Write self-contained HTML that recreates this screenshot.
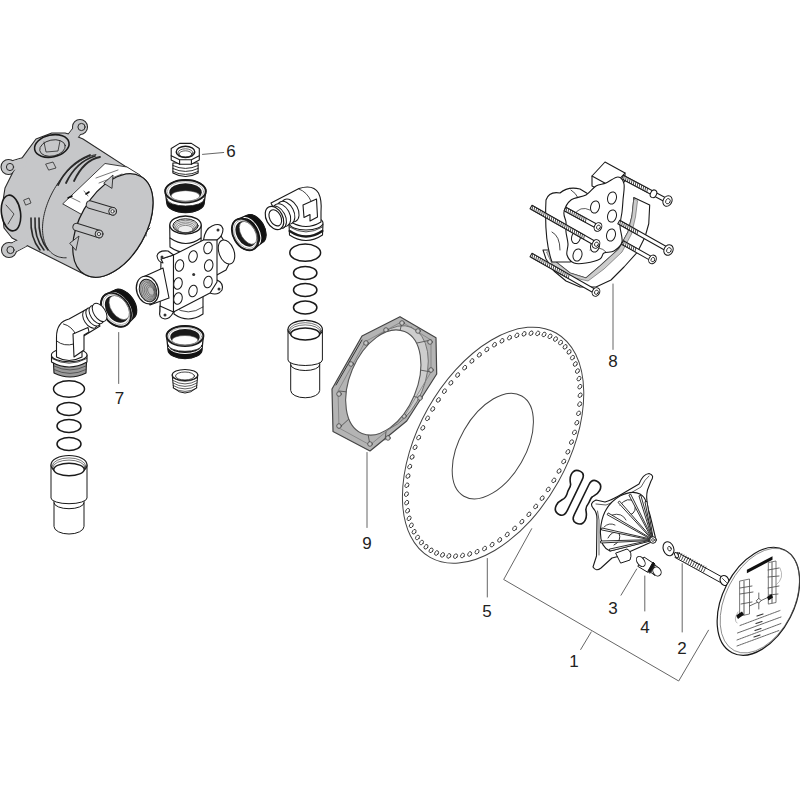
<!DOCTYPE html><html><head><meta charset="utf-8"><style>html,body{margin:0;padding:0;background:#fff;width:800px;height:800px;overflow:hidden}svg{display:block}text{font-family:"Liberation Sans",sans-serif;fill:#222;font-size:17px}</style></head><body>
<svg width="800" height="800" viewBox="0 0 800 800" stroke-linejoin="round" stroke-linecap="round">
<rect width="800" height="800" fill="#fff"/>
<g stroke="#2a2a2a" stroke-width="1.1">
<path d="M80,127 L70,140" stroke="#2a2a2a" stroke-width="11" />
<path d="M80,127 L70,140" stroke="#c6c7c9" stroke-width="9" />
<circle cx="80" cy="127" r="7.5" fill="#c6c7c9"/>
<path d="M8.5,167 L22,163" stroke="#2a2a2a" stroke-width="11" />
<path d="M8.5,167 L22,163" stroke="#c6c7c9" stroke-width="9" />
<circle cx="8.5" cy="167" r="7.5" fill="#c6c7c9"/>
<path d="M9,250 L24,242" stroke="#2a2a2a" stroke-width="11" />
<path d="M9,250 L24,242" stroke="#c6c7c9" stroke-width="9" />
<circle cx="9" cy="250" r="7.5" fill="#c6c7c9"/>
<path d="M2,207 L5,188 L13,172 L22.5,157.3 L36,139 L51.8,133 L65,133 L76,136 L83,139 L141.64,176.87 L142.36,177.35 L143.06,177.86 L143.75,178.41 L144.41,178.98 L145.05,179.59 L145.66,180.23 L146.26,180.9 L146.83,181.61 L147.38,182.34 L147.91,183.1 L148.41,183.89 L148.89,184.71 L149.34,185.56 L149.77,186.43 L150.17,187.34 L150.54,188.26 L150.9,189.22 L151.22,190.19 L151.52,191.2 L151.79,192.22 L152.04,193.27 L152.26,194.34 L152.45,195.43 L152.61,196.55 L152.75,197.68 L152.86,198.83 L152.94,200 L153,201.19 L153.02,202.39 L153.03,203.61 L153,204.85 L152.94,206.1 L152.86,207.36 L152.75,208.63 L152.61,209.92 L152.45,211.22 L152.26,212.52 L152.04,213.84 L151.8,215.16 L151.52,216.49 L151.23,217.83 L150.9,219.17 L150.55,220.52 L150.18,221.87 L149.77,223.22 L149.35,224.58 L148.89,225.93 L148.42,227.29 L147.92,228.64 L147.39,229.99 L146.84,231.34 L146.27,232.68 L145.68,234.02 L145.06,235.35 L144.42,236.68 L143.76,238 L143.08,239.31 L142.37,240.61 L141.65,241.9 L140.91,243.18 L140.15,244.45 L139.37,245.7 L138.57,246.94 L137.75,248.17 L136.92,249.38 L136.07,250.57 L135.2,251.75 L134.32,252.9 L133.43,254.04 L132.52,255.16 L131.59,256.26 L130.66,257.34 L129.71,258.4 L128.75,259.43 L127.78,260.44 L126.8,261.43 L125.81,262.39 L124.81,263.33 L123.8,264.24 L122.79,265.13 L121.77,265.98 L120.74,266.81 L119.71,267.61 L118.67,268.39 L117.63,269.13 L116.58,269.84 L115.54,270.53 L114.49,271.18 L113.44,271.8 L112.39,272.39 L111.34,272.95 L110.29,273.47 L109.24,273.96 L108.19,274.42 L107.15,274.84 L106.12,275.24 L105.08,275.59 L104.05,275.91 L103.03,276.2 L102.02,276.46 L101.01,276.67 L100.01,276.86 L99.02,277.01 L98.04,277.12 L97.07,277.2 L96.11,277.24 L95.16,277.24 L94.23,277.21 L93.3,277.15 L92.39,277.05 L91.5,276.91 L90.61,276.74 L89.75,276.54 L88.9,276.3 L88.07,276.02 L87.25,275.71 L86.45,275.37 L85.67,274.99 L12,238 L4,228Z" fill="#c6c7c9"/>
<path d="M80,127 L70,140" stroke="#c6c7c9" stroke-width="9" />
<circle cx="80" cy="127" r="6.5" fill="#c6c7c9" stroke="none"/>
<circle cx="81.5" cy="127" r="3.6" fill="#c6c7c9" stroke-width="1"/>
<path d="M8.5,167 L22,163" stroke="#c6c7c9" stroke-width="9" />
<circle cx="8.5" cy="167" r="6.5" fill="#c6c7c9" stroke="none"/>
<circle cx="10" cy="167" r="3.6" fill="#c6c7c9" stroke-width="1"/>
<path d="M9,250 L24,242" stroke="#c6c7c9" stroke-width="9" />
<circle cx="9" cy="250" r="6.5" fill="#c6c7c9" stroke="none"/>
<circle cx="10.5" cy="250" r="3.6" fill="#c6c7c9" stroke-width="1"/>
<path d="M66.19,257.79 L64.8,257.8 L63.45,257.74 L62.11,257.61 L60.81,257.39 L59.54,257.11 L58.31,256.75 L57.11,256.31 L55.95,255.81 L54.82,255.23 L53.74,254.57 L52.7,253.85 L51.7,253.06 L50.75,252.2 L49.85,251.27 L48.99,250.28 L48.18,249.22 L47.42,248.1 L46.71,246.92 L46.06,245.68 L45.46,244.38 L44.91,243.02 L44.42,241.61 L43.98,240.15 L43.6,238.64 L43.28,237.08 L43.01,235.48 L42.81,233.83 L42.66,232.15 L42.56,230.42 L42.53,228.66 L42.56,226.87 L42.64,225.04 L42.78,223.19 L42.98,221.32 L43.24,219.42 L43.56,217.5 L43.93,215.57 L44.36,213.62 L44.84,211.66 L45.38,209.69 L45.98,207.72 L46.63,205.74 L47.33,203.77 L48.08,201.8 L48.88,199.83 L49.73,197.87 L50.63,195.93 L51.58,194 L52.57,192.09 L53.6,190.2 L54.68,188.33 L55.8,186.49 L56.96,184.67 L58.15,182.89 L59.38,181.14 L60.65,179.43 L61.95,177.75 L63.27,176.12 L64.63,174.53 L66.01,172.99 L67.41,171.49 L68.84,170.05 L70.29,168.66 L71.76,167.32 L73.24,166.04 L74.73,164.81 L76.24,163.65 L77.76,162.55 L79.28,161.51 L80.81,160.54 L82.34,159.64 L83.87,158.8 L85.4,158.03 L86.93,157.33 L88.45,156.7 L89.96,156.14 L91.46,155.66 L92.95,155.25 L94.42,154.91 L95.88,154.65" fill="none" stroke-width="1"/>
<ellipse cx="51.8" cy="146" rx="17.5" ry="11" fill="#c6c7c9" stroke="#1a1a1a" stroke-width="1.6" transform="rotate(-12 51.8 146)" />
<ellipse cx="52.5" cy="148" rx="13" ry="8" fill="none" stroke="#1a1a1a" stroke-width="0.8" transform="rotate(-12 52.5 148)" />
<path d="M44,142 L46,152 L58,151 L60,141" fill="none" stroke-width="0.8"/>
<ellipse cx="11" cy="213" rx="9.5" ry="18" fill="#c6c7c9" stroke="#1a1a1a" stroke-width="1.6" transform="rotate(-8 11 213)" />
<path d="M6,205 L14,214 L8,224" fill="none" stroke-width="0.8"/>
<path d="M58,185 Q68,164 90,155" fill="none" stroke-width="1.8"/>
<path d="M66,183 Q76,162 95,156" fill="none" stroke-width="1.8"/>
<path d="M74,181 Q84,160 100,157" fill="none" stroke-width="1.8"/>
<path d="M31,218 Q30,238 40,250" fill="none" stroke-width="1.6"/>
<path d="M35,218 Q34,238 44,250" fill="none" stroke-width="1.6"/>
<path d="M39,218 Q38,238 48,250" fill="none" stroke-width="1.6"/>
<path d="M46,164 L53,162 L56,168 L49,170 Z M24,200 L29,198 L31,203 L26,205 Z" fill="#c6c7c9" stroke-width="0.8"/>
<path d="M63,203.6 L105,163.5 L127,167 L140,175 L150,205 L85,218 L81.6,214.6 Z" fill="#fff" stroke-width="0.9"/>
<path d="M70,197 L80,202 M84,191 L88,196 M96,178 L118,170 M99,183 L122,174 M102,188 L125,178 M106,191 L120,186" fill="none" stroke="#555" stroke-width="0.8"/>
<path d="M68,198 L72,196 M86,194 L89,192" fill="none" stroke="#111" stroke-width="1.6"/>
<ellipse cx="112.9" cy="225.5" rx="56.5" ry="33.1" fill="#c6c7c9" stroke="#1a1a1a" stroke-width="1.2" transform="rotate(-60.3 112.9 225.5)" />
<path d="M104,183 L113,175 L112,188 Z M70,243 L79,236 L76,250 Z" fill="#c6c7c9" stroke-width="0.9"/>
<path d="M90,204.6 L112.6,211.3" stroke="#2a2a2a" stroke-width="8.5"/>
<path d="M90,204.6 L112.6,211.3" stroke="#c6c7c9" stroke-width="6.5"/>
<circle cx="112.6" cy="211.3" r="3.9" fill="#c6c7c9" stroke-width="1"/>
<circle cx="112.6" cy="211.3" r="1.6" fill="#fff" stroke-width="0.8"/>
<path d="M76.6,227 L99,234" stroke="#2a2a2a" stroke-width="8.5"/>
<path d="M76.6,227 L99,234" stroke="#c6c7c9" stroke-width="6.5"/>
<circle cx="99" cy="234" r="3.9" fill="#c6c7c9" stroke-width="1"/>
<circle cx="99" cy="234" r="1.6" fill="#fff" stroke-width="0.8"/>
<path d="M150,228 L146,232 L146,236" fill="none" stroke-width="0.9"/>
</g>
<g stroke="#1a1a1a" stroke-width="1.1" fill="#fff">
<path d="M172.9,163 L172.9,173 Q185.5,180 198.1,173 L198.1,163 Z"/>
<path d="M172.9,165.5 Q185.5,171.5 198.1,165.5" fill="none" stroke-width="0.9"/>
<path d="M172.9,168.5 Q185.5,174.5 198.1,168.5" fill="none" stroke-width="0.9"/>
<path d="M172.9,171.5 Q185.5,177.5 198.1,171.5" fill="none" stroke-width="0.9"/>
<path d="M171.2,148.5 L179.6,143.4 L191.4,143.4 L199.3,148.5 L199.3,160 L191.4,164.2 L179.6,164.2 L171.2,160 Z"/>
<path d="M171.2,155.8 L179.6,159.7 L191.4,159.7 L199.3,155.8 M179.6,159.7 L179.6,164.2 M191.4,159.7 L191.4,164.2" fill="none"/>
<ellipse cx="185.5" cy="151.9" rx="9.3" ry="5.6" fill="#fff" stroke="#1a1a1a" stroke-width="1.4" />
<ellipse cx="185.5" cy="153" rx="7.6" ry="4.2" fill="none" stroke="#1a1a1a" stroke-width="0.7" />
<ellipse cx="185.5" cy="154" rx="6.4" ry="3.2" fill="none" stroke="#1a1a1a" stroke-width="0.7" />
</g>
<g transform="translate(185.5 191.2) rotate(0)">
<path d="M-20.3,0 A20.3,11.2 0 0 1 20.3,0 L18.68,11.8 A18.68,9.52 0 0 1 -18.68,11.8 Z" fill="#fff" stroke="#1a1a1a" stroke-width="1.3"/>
<path d="M-18.68,7.8 A18.68,7.06 0 0 0 18.68,7.8 L18.68,11.8 A18.68,9.52 0 0 1 -18.68,11.8 Z" fill="#111" stroke="#1a1a1a" stroke-width="0.8"/>
<ellipse cx="0" cy="0" rx="20.3" ry="11.2" fill="#fff" stroke="#1a1a1a" stroke-width="1.95"/>
<ellipse cx="0" cy="1" rx="16.24" ry="8.96" fill="#1a1a1a" stroke="none"/>
<ellipse cx="0" cy="4.7" rx="14.41" ry="5.26" fill="#fff" stroke="#444" stroke-width="0.6"/>
<ellipse cx="0" cy="0.5" rx="18.27" ry="10.08" fill="none" stroke="#888" stroke-width="0.6"/>
</g>
<g stroke="#1a1a1a" stroke-width="1.1" fill="#fff">
<path d="M214,240 L221,236 L233,256 L226,270 L215,276 Z"/>
<ellipse cx="226.5" cy="252" rx="7.5" ry="12.5" fill="#fff" stroke="#1a1a1a" stroke-width="1.1" transform="rotate(-20 226.5 252)" />
<path d="M174,296 L174,314 Q188,324 203,314 L203,296 Z"/>
<path d="M174,307 Q188,317 203,307" fill="none" stroke-width="0.8"/>
<path d="M169.7,225 L170,247 Q186,258 201,247 L201.2,225 Z"/>
<path d="M170,238 Q186,249 201,238" fill="none"/>
<ellipse cx="185.5" cy="225" rx="15.7" ry="9" fill="#fff" stroke="#1a1a1a" stroke-width="1.3" />
<ellipse cx="185.5" cy="225.8" rx="12.6" ry="7" fill="#eee" stroke="#1a1a1a" stroke-width="1" />
<ellipse cx="185.5" cy="226.5" rx="11.5" ry="6.2" fill="none" stroke="#444" stroke-width="0.6" />
<ellipse cx="185.5" cy="227.4" rx="10.2" ry="5.4" fill="none" stroke="#444" stroke-width="0.6" />
<ellipse cx="185.5" cy="228.3" rx="8.9" ry="4.6" fill="none" stroke="#444" stroke-width="0.6" />
<ellipse cx="185.5" cy="229.2" rx="7.6" ry="3.8" fill="none" stroke="#444" stroke-width="0.6" />
<path d="M173.5,255 L161,259 L160,314 L173.5,312 Z"/>
<path d="M173.5,255 L168,251 Q158,250 157,256 Q158,262 163,263 L161,259 Z"/>
<path d="M203.5,240 Q205,229 212,226 Q221,222 223,229 Q223,236 217,240 Z"/>
<path d="M217,280 Q224,283 222,290 Q218,296 210,293 Z"/>
<path d="M173.5,312 Q170,319 165,319 Q158,318 160,311 L160,306 Z"/>
<path d="M173.5,255 L203.5,240 L217,240 L217,282 L210,293 L173.5,312 Z"/>
<circle cx="162" cy="257" r="1.5" fill="#333" stroke="none"/>
<circle cx="218" cy="230" r="1.5" fill="#333" stroke="none"/>
<circle cx="219" cy="289" r="1.5" fill="#333" stroke="none"/>
<circle cx="165" cy="315" r="1.5" fill="#333" stroke="none"/>
<ellipse cx="179.5" cy="265.5" rx="4.2" ry="5.9" fill="#fff" stroke="#1a1a1a" stroke-width="1" transform="rotate(12 179.5 265.5)" />
<ellipse cx="193" cy="256.5" rx="4.2" ry="5.9" fill="#fff" stroke="#1a1a1a" stroke-width="1" transform="rotate(12 193 256.5)" />
<ellipse cx="208" cy="248" rx="4.2" ry="5.9" fill="#fff" stroke="#1a1a1a" stroke-width="1" transform="rotate(12 208 248)" />
<ellipse cx="208.7" cy="265.5" rx="4.2" ry="5.9" fill="#fff" stroke="#1a1a1a" stroke-width="1" transform="rotate(12 208.7 265.5)" />
<ellipse cx="208" cy="282" rx="4.2" ry="5.9" fill="#fff" stroke="#1a1a1a" stroke-width="1" transform="rotate(12 208 282)" />
<ellipse cx="193" cy="291" rx="4.2" ry="5.9" fill="#fff" stroke="#1a1a1a" stroke-width="1" transform="rotate(12 193 291)" />
<ellipse cx="178" cy="283.5" rx="4.2" ry="5.9" fill="#fff" stroke="#1a1a1a" stroke-width="1" transform="rotate(12 178 283.5)" />
<ellipse cx="178" cy="298.5" rx="4.2" ry="5.9" fill="#fff" stroke="#1a1a1a" stroke-width="1" transform="rotate(12 178 298.5)" />
<circle cx="193.7" cy="274.5" r="1.5" fill="#333" stroke="none"/>
<path d="M143,277 L163,268 L169,298 L150,305 Z"/>
<ellipse cx="147.5" cy="290" rx="10.8" ry="14.2" fill="#fff" stroke="#1a1a1a" stroke-width="1.3" transform="rotate(-18 147.5 290)" />
<ellipse cx="148" cy="290.5" rx="8.4" ry="11.6" fill="#bbb" stroke="#1a1a1a" stroke-width="1" transform="rotate(-18 148 290.5)" />
<ellipse cx="148.5" cy="291" rx="7.4" ry="10.5" fill="none" stroke="#555" stroke-width="0.6" transform="rotate(-18 148.5 291)" />
<ellipse cx="149.1" cy="291" rx="6.3" ry="9" fill="none" stroke="#555" stroke-width="0.6" transform="rotate(-18 149.1 291)" />
<ellipse cx="149.7" cy="291" rx="5.2" ry="7.5" fill="none" stroke="#555" stroke-width="0.6" transform="rotate(-18 149.7 291)" />
<ellipse cx="150.3" cy="291" rx="4.1" ry="6" fill="none" stroke="#555" stroke-width="0.6" transform="rotate(-18 150.3 291)" />
<ellipse cx="150.9" cy="291" rx="3" ry="4.5" fill="none" stroke="#555" stroke-width="0.6" transform="rotate(-18 150.9 291)" />
</g>
<g transform="translate(185 336) rotate(0)">
<path d="M-18.4,0 A18.4,10 0 0 1 18.4,0 L16.93,14 A16.93,8.5 0 0 1 -16.93,14 Z" fill="#fff" stroke="#1a1a1a" stroke-width="1.3"/>
<path d="M-16.93,9 A16.93,6.3 0 0 0 16.93,9 L16.93,14 A16.93,8.5 0 0 1 -16.93,14 Z" fill="#111" stroke="#1a1a1a" stroke-width="0.8"/>
<path d="M-16.59,11.5 A16.93,7.5 0 0 0 16.59,11.5" fill="none" stroke="#fff" stroke-width="1"/>
<ellipse cx="0" cy="0" rx="18.4" ry="10" fill="#fff" stroke="#1a1a1a" stroke-width="1.95"/>
<ellipse cx="0" cy="1" rx="14.72" ry="8" fill="#1a1a1a" stroke="none"/>
<ellipse cx="0" cy="4.2" rx="13.06" ry="4.7" fill="#fff" stroke="#444" stroke-width="0.6"/>
<ellipse cx="0" cy="0.5" rx="16.56" ry="9" fill="none" stroke="#888" stroke-width="0.6"/>
</g>
<g stroke="#1a1a1a" stroke-width="1" fill="#fff">
<path d="M172.2,375 L173.5,388 Q185,398 196.5,388 L197.8,375 Z"/>
<path d="M173,378 Q185,385 197,378" fill="none" stroke-width="0.7"/>
<path d="M173,380.5 Q185,387.5 197,380.5" fill="none" stroke-width="0.7"/>
<path d="M173,383 Q185,390 197,383" fill="none" stroke-width="0.7"/>
<path d="M173,385.5 Q185,392.5 197,385.5" fill="none" stroke-width="0.7"/>
<path d="M173,388 Q185,395 197,388" fill="none" stroke-width="0.7"/>
<ellipse cx="185" cy="375" rx="12.8" ry="5.5" fill="#fff" stroke="#1a1a1a" stroke-width="1.1" />
<ellipse cx="185" cy="376" rx="9.5" ry="4" fill="none" stroke="#1a1a1a" stroke-width="0.8" />
</g>
<g transform="translate(245 234.5) rotate(-120)">
<path d="M-17,0 A17,11.5 0 0 1 17,0 L15.64,11 A15.64,9.78 0 0 1 -15.64,11 Z" fill="#fff" stroke="#1a1a1a" stroke-width="1.3"/>
<path d="M-15.64,4 A15.64,7.25 0 0 0 15.64,4 L15.64,11 A15.64,9.78 0 0 1 -15.64,11 Z" fill="#111" stroke="#1a1a1a" stroke-width="0.8"/>
<path d="M-15.33,7.5 A15.64,8.62 0 0 0 15.33,7.5" fill="none" stroke="#fff" stroke-width="1"/>
<ellipse cx="0" cy="0" rx="17" ry="11.5" fill="#fff" stroke="#1a1a1a" stroke-width="1.95"/>
<ellipse cx="0" cy="1" rx="13.6" ry="9.2" fill="#1a1a1a" stroke="none"/>
<ellipse cx="0" cy="3.45" rx="12.58" ry="7.13" fill="#fff" stroke="#444" stroke-width="0.6"/>
<ellipse cx="0" cy="0.5" rx="15.3" ry="10.35" fill="none" stroke="#888" stroke-width="0.6"/>
</g>
<g stroke="#1a1a1a" stroke-width="1.1" fill="#fff">
<path d="M289,224 L289.5,235 Q306,246 322.5,235 L323,224 Z"/>
<path d="M289.7,231 Q306,242 322.3,231" fill="none" stroke-width="2.4"/>
<path d="M289.5,227 Q306,237 322.5,227" fill="none" stroke-width="0.8"/>
<ellipse cx="306" cy="223" rx="17" ry="7" fill="#fff" stroke="#1a1a1a" stroke-width="1.1" />
<path d="M271,203 L299,188.5 Q313,184 318.5,193 Q322,200 321,212 L321,222 Q306,231 291,222 L283,228 Z"/>
<path d="M299,189 Q307,192 311,201" fill="none" stroke-width="0.8"/>
<path d="M303,205 L316.5,199 L317.5,217 L310,221 L310,214.5 L304,217.5 Z" fill="#fff"/>
<ellipse cx="290" cy="210.5" rx="8" ry="12.2" fill="#fff" stroke="#1a1a1a" stroke-width="1" transform="rotate(-28 290 210.5)" />
<ellipse cx="285.8" cy="212.8" rx="8" ry="12.2" fill="#fff" stroke="#1a1a1a" stroke-width="1" transform="rotate(-28 285.8 212.8)" />
<ellipse cx="281.6" cy="215.1" rx="8" ry="12.2" fill="#fff" stroke="#1a1a1a" stroke-width="1" transform="rotate(-28 281.6 215.1)" />
<ellipse cx="277.4" cy="217.4" rx="8" ry="12.2" fill="#fff" stroke="#1a1a1a" stroke-width="1" transform="rotate(-28 277.4 217.4)" />
<ellipse cx="274.5" cy="218" rx="8.2" ry="12.4" fill="#fff" stroke="#1a1a1a" stroke-width="1.2" transform="rotate(-28 274.5 218)" />
<ellipse cx="275.3" cy="217.8" rx="5.6" ry="8.6" fill="#fff" stroke="#1a1a1a" stroke-width="1.1" transform="rotate(-28 275.3 217.8)" />
</g>
<ellipse cx="305.2" cy="252.7" rx="15.4" ry="8.6" fill="none" stroke="#1a1a1a" stroke-width="1.5" />
<ellipse cx="305.2" cy="273" rx="11.7" ry="6.5" fill="none" stroke="#1a1a1a" stroke-width="1.5" />
<ellipse cx="305.2" cy="290" rx="11.7" ry="6.5" fill="none" stroke="#1a1a1a" stroke-width="1.5" />
<ellipse cx="305.2" cy="307.6" rx="11.7" ry="6.5" fill="none" stroke="#1a1a1a" stroke-width="1.5" />
<g stroke="#1a1a1a" stroke-width="1" fill="#fff">
<path d="M290.7,362 L290.7,390.4 A14.5,7.36 0 0 0 319.7,390.4 L319.7,362 Z"/>
<path d="M288,329.5 L288,360 A17.2,5.52 0 0 0 322.4,360 L322.4,329.5 Z"/>
<path d="M290.7,365 A14.5,5.52 0 0 0 319.7,365" fill="none"/>
<ellipse cx="305.2" cy="329.5" rx="17.2" ry="9.2" fill="#fff" stroke="#1a1a1a" stroke-width="1.2" />
<ellipse cx="305.2" cy="330.7" rx="16" ry="8" fill="none" stroke="#1a1a1a" stroke-width="0.6" />
<ellipse cx="305.2" cy="331.9" rx="15.2" ry="7" fill="none" stroke="#1a1a1a" stroke-width="0.6" />
<ellipse cx="305.2" cy="334" rx="14.4" ry="6" fill="#fff" stroke="#1a1a1a" stroke-width="1.4" />
</g>
<g transform="translate(116 309.8) rotate(-125)">
<path d="M-18.5,0 A18.5,13 0 0 1 18.5,0 L17.02,9 A17.02,11.05 0 0 1 -17.02,9 Z" fill="#fff" stroke="#1a1a1a" stroke-width="1.3"/>
<path d="M-17.02,3 A17.02,8.19 0 0 0 17.02,3 L17.02,9 A17.02,11.05 0 0 1 -17.02,9 Z" fill="#111" stroke="#1a1a1a" stroke-width="0.8"/>
<path d="M-16.68,6 A17.02,9.75 0 0 0 16.68,6" fill="none" stroke="#fff" stroke-width="1"/>
<ellipse cx="0" cy="0" rx="18.5" ry="13" fill="#fff" stroke="#1a1a1a" stroke-width="1.95"/>
<ellipse cx="0" cy="1" rx="14.8" ry="10.4" fill="#1a1a1a" stroke="none"/>
<ellipse cx="0" cy="3.9" rx="13.69" ry="8.06" fill="#fff" stroke="#444" stroke-width="0.6"/>
<ellipse cx="0" cy="0.5" rx="16.65" ry="11.7" fill="none" stroke="#888" stroke-width="0.6"/>
</g>
<g stroke="#1a1a1a" stroke-width="1.1" fill="#fff">
<path d="M53.4,362 L54,373 Q70,381 86,373 L86.5,362 Z" fill="#9a9a9a"/>
<path d="M54,366 Q70,374 86,366 M54,369.5 Q70,377.5 86,369.5" fill="none" stroke="#444" stroke-width="0.8"/>
<path d="M51.5,355 L51.5,362 Q69,372 87,362 L87,355 Z"/>
<path d="M51.8,358.5 Q69,368 86.8,358.5" fill="none" stroke-width="0.8"/>
<ellipse cx="69.2" cy="355" rx="17.8" ry="6.8" fill="#fff" stroke="#1a1a1a" stroke-width="1.1" />
<path d="M56.5,357 L56.5,337 C56.5,326 61,321 69,319 L88,308.5 L100,326 L82,337 L82,357 Q69,364 56.5,357 Z"/>
<path d="M56.7,341 Q64,347 74,344 M63.5,324 Q72,326 76,335" fill="none" stroke-width="0.9"/>
<ellipse cx="90" cy="319" rx="5.8" ry="10.2" fill="#fff" stroke="#1a1a1a" stroke-width="1" transform="rotate(-33 90 319)" />
<ellipse cx="93.2" cy="316.8" rx="5.8" ry="10.2" fill="#fff" stroke="#1a1a1a" stroke-width="1" transform="rotate(-33 93.2 316.8)" />
<ellipse cx="96.4" cy="314.6" rx="5.8" ry="10.2" fill="#fff" stroke="#1a1a1a" stroke-width="1" transform="rotate(-33 96.4 314.6)" />
<ellipse cx="99.6" cy="312.4" rx="5.8" ry="10.2" fill="#fff" stroke="#1a1a1a" stroke-width="1" transform="rotate(-33 99.6 312.4)" />
<path d="M73,334 L88,327.5 L89,332 L84,335 L84,350 L74,357 Z"/>
</g>
<ellipse cx="69" cy="389" rx="15.5" ry="8.2" fill="none" stroke="#1a1a1a" stroke-width="1.5" />
<ellipse cx="69" cy="409" rx="12" ry="6.5" fill="none" stroke="#1a1a1a" stroke-width="1.5" />
<ellipse cx="69" cy="426" rx="12" ry="6.5" fill="none" stroke="#1a1a1a" stroke-width="1.5" />
<ellipse cx="69" cy="444" rx="12" ry="6.5" fill="none" stroke="#1a1a1a" stroke-width="1.5" />
<g stroke="#1a1a1a" stroke-width="1" fill="#fff">
<path d="M54,500 L54,526.4 A15,7.6 0 0 0 84,526.4 L84,500 Z"/>
<path d="M51,465 L51,498 A18,5.7 0 0 0 87,498 L87,465 Z"/>
<path d="M54,503 A15,5.7 0 0 0 84,503" fill="none"/>
<ellipse cx="69" cy="465" rx="18" ry="9.5" fill="#fff" stroke="#1a1a1a" stroke-width="1.2" />
<ellipse cx="69" cy="466.2" rx="16.8" ry="8.3" fill="none" stroke="#1a1a1a" stroke-width="0.6" />
<ellipse cx="69" cy="467.4" rx="16" ry="7.3" fill="none" stroke="#1a1a1a" stroke-width="0.6" />
<ellipse cx="69" cy="469.5" rx="15.2" ry="6.3" fill="#fff" stroke="#1a1a1a" stroke-width="1.4" />
</g>
<g stroke="#444" stroke-width="1.2">
<path d="M400,316.7 L436,337.7 L436.7,374 L431,383 L406.7,421 L370,451 L333,431.5 L332,389 L362,336Z" fill="#b4b4b4"/>
<ellipse cx="390" cy="378.5" rx="55.5" ry="34.5" fill="#cdcdcd" stroke="#666" stroke-width="0.8" transform="rotate(-67.3 390 378.5)" />
<path d="M402,322 L431,340 L431,372 L404,417 L370,445 L339,428 L338,391 L365,342 Z" fill="none" stroke="#777" stroke-width="0.7"/>
<path d="M365,342 L372,350 M339,391 L348,392 M339,428 L350,418 M370,445 L368,434 M404,417 L398,415 M431,372 L420,370 M431,340 L417,343 M402,322 L400,331 M350,362 L358,366 M385,440 L386,432 M420,398 L412,396" fill="none" stroke="#555" stroke-width="0.9"/>
<path d="M336,385 L362,340" fill="none" stroke="#333" stroke-width="1"/>
<circle cx="402" cy="323" r="2.3" fill="#c8c8c8" stroke="#444" stroke-width="0.8"/>
<circle cx="430" cy="342" r="2.3" fill="#c8c8c8" stroke="#444" stroke-width="0.8"/>
<circle cx="431" cy="370" r="2.3" fill="#c8c8c8" stroke="#444" stroke-width="0.8"/>
<circle cx="404" cy="416" r="2.3" fill="#c8c8c8" stroke="#444" stroke-width="0.8"/>
<circle cx="370" cy="444" r="2.3" fill="#c8c8c8" stroke="#444" stroke-width="0.8"/>
<circle cx="339" cy="426" r="2.3" fill="#c8c8c8" stroke="#444" stroke-width="0.8"/>
<circle cx="339" cy="394" r="2.3" fill="#c8c8c8" stroke="#444" stroke-width="0.8"/>
<circle cx="366" cy="343" r="2.3" fill="#c8c8c8" stroke="#444" stroke-width="0.8"/>
<circle cx="386" cy="330" r="2.3" fill="#c8c8c8" stroke="#444" stroke-width="0.8"/>
<circle cx="418" cy="331" r="2.3" fill="#c8c8c8" stroke="#444" stroke-width="0.8"/>
<circle cx="388" cy="438" r="2.3" fill="#c8c8c8" stroke="#444" stroke-width="0.8"/>
<circle cx="420" cy="398" r="2.3" fill="#c8c8c8" stroke="#444" stroke-width="0.8"/>
<circle cx="351" cy="364" r="2.3" fill="#c8c8c8" stroke="#444" stroke-width="0.8"/>
<ellipse cx="383.3" cy="382.5" rx="55.2" ry="33.6" fill="#fff" stroke="#555" stroke-width="1.1" transform="rotate(-67.3 383.3 382.5)" />
</g>
<ellipse cx="493.1" cy="445.2" rx="128.7" ry="74.8" fill="#fff" stroke="#444" stroke-width="1" transform="rotate(-60.7 493.1 445.2)" />
<ellipse cx="492.8" cy="446.1" rx="57.9" ry="32.9" fill="none" stroke="#444" stroke-width="1" transform="rotate(-60 492.8 446.1)" />
<ellipse cx="560.57" cy="342.58" rx="1.75" ry="2.5" transform="rotate(32 560.57 342.58)" fill="none" stroke="#333" stroke-width="0.85"/>
<ellipse cx="565.1" cy="346.86" rx="1.75" ry="2.5" transform="rotate(32 565.1 346.86)" fill="none" stroke="#333" stroke-width="0.85"/>
<ellipse cx="569.08" cy="351.9" rx="1.75" ry="2.5" transform="rotate(32 569.08 351.9)" fill="none" stroke="#333" stroke-width="0.85"/>
<ellipse cx="572.49" cy="357.64" rx="1.75" ry="2.5" transform="rotate(32 572.49 357.64)" fill="none" stroke="#333" stroke-width="0.85"/>
<ellipse cx="575.29" cy="364.04" rx="1.75" ry="2.5" transform="rotate(32 575.29 364.04)" fill="none" stroke="#333" stroke-width="0.85"/>
<ellipse cx="577.47" cy="371.06" rx="1.75" ry="2.5" transform="rotate(32 577.47 371.06)" fill="none" stroke="#333" stroke-width="0.85"/>
<ellipse cx="579.01" cy="378.63" rx="1.75" ry="2.5" transform="rotate(32 579.01 378.63)" fill="none" stroke="#333" stroke-width="0.85"/>
<ellipse cx="579.9" cy="386.71" rx="1.75" ry="2.5" transform="rotate(32 579.9 386.71)" fill="none" stroke="#333" stroke-width="0.85"/>
<ellipse cx="580.13" cy="395.23" rx="1.75" ry="2.5" transform="rotate(32 580.13 395.23)" fill="none" stroke="#333" stroke-width="0.85"/>
<ellipse cx="579.7" cy="404.13" rx="1.75" ry="2.5" transform="rotate(32 579.7 404.13)" fill="none" stroke="#333" stroke-width="0.85"/>
<ellipse cx="578.61" cy="413.34" rx="1.75" ry="2.5" transform="rotate(32 578.61 413.34)" fill="none" stroke="#333" stroke-width="0.85"/>
<ellipse cx="576.87" cy="422.78" rx="1.75" ry="2.5" transform="rotate(32 576.87 422.78)" fill="none" stroke="#333" stroke-width="0.85"/>
<ellipse cx="574.49" cy="432.39" rx="1.75" ry="2.5" transform="rotate(32 574.49 432.39)" fill="none" stroke="#333" stroke-width="0.85"/>
<ellipse cx="571.5" cy="442.1" rx="1.75" ry="2.5" transform="rotate(32 571.5 442.1)" fill="none" stroke="#333" stroke-width="0.85"/>
<ellipse cx="567.91" cy="451.82" rx="1.75" ry="2.5" transform="rotate(32 567.91 451.82)" fill="none" stroke="#333" stroke-width="0.85"/>
<ellipse cx="563.76" cy="461.49" rx="1.75" ry="2.5" transform="rotate(32 563.76 461.49)" fill="none" stroke="#333" stroke-width="0.85"/>
<ellipse cx="559.07" cy="471.04" rx="1.75" ry="2.5" transform="rotate(32 559.07 471.04)" fill="none" stroke="#333" stroke-width="0.85"/>
<ellipse cx="553.87" cy="480.38" rx="1.75" ry="2.5" transform="rotate(32 553.87 480.38)" fill="none" stroke="#333" stroke-width="0.85"/>
<ellipse cx="548.22" cy="489.45" rx="1.75" ry="2.5" transform="rotate(32 548.22 489.45)" fill="none" stroke="#333" stroke-width="0.85"/>
<ellipse cx="542.15" cy="498.18" rx="1.75" ry="2.5" transform="rotate(32 542.15 498.18)" fill="none" stroke="#333" stroke-width="0.85"/>
<ellipse cx="535.7" cy="506.5" rx="1.75" ry="2.5" transform="rotate(32 535.7 506.5)" fill="none" stroke="#333" stroke-width="0.85"/>
<ellipse cx="528.94" cy="514.36" rx="1.75" ry="2.5" transform="rotate(32 528.94 514.36)" fill="none" stroke="#333" stroke-width="0.85"/>
<ellipse cx="521.9" cy="521.68" rx="1.75" ry="2.5" transform="rotate(32 521.9 521.68)" fill="none" stroke="#333" stroke-width="0.85"/>
<ellipse cx="514.65" cy="528.42" rx="1.75" ry="2.5" transform="rotate(32 514.65 528.42)" fill="none" stroke="#333" stroke-width="0.85"/>
<ellipse cx="507.23" cy="534.52" rx="1.75" ry="2.5" transform="rotate(32 507.23 534.52)" fill="none" stroke="#333" stroke-width="0.85"/>
<ellipse cx="499.7" cy="539.93" rx="1.75" ry="2.5" transform="rotate(32 499.7 539.93)" fill="none" stroke="#333" stroke-width="0.85"/>
<ellipse cx="492.13" cy="544.63" rx="1.75" ry="2.5" transform="rotate(32 492.13 544.63)" fill="none" stroke="#333" stroke-width="0.85"/>
<ellipse cx="484.57" cy="548.56" rx="1.75" ry="2.5" transform="rotate(32 484.57 548.56)" fill="none" stroke="#333" stroke-width="0.85"/>
<ellipse cx="477.07" cy="551.7" rx="1.75" ry="2.5" transform="rotate(32 477.07 551.7)" fill="none" stroke="#333" stroke-width="0.85"/>
<ellipse cx="469.7" cy="554.02" rx="1.75" ry="2.5" transform="rotate(32 469.7 554.02)" fill="none" stroke="#333" stroke-width="0.85"/>
<ellipse cx="462.5" cy="555.52" rx="1.75" ry="2.5" transform="rotate(32 462.5 555.52)" fill="none" stroke="#333" stroke-width="0.85"/>
<ellipse cx="455.55" cy="556.17" rx="1.75" ry="2.5" transform="rotate(32 455.55 556.17)" fill="none" stroke="#333" stroke-width="0.85"/>
<ellipse cx="448.87" cy="555.97" rx="1.75" ry="2.5" transform="rotate(32 448.87 555.97)" fill="none" stroke="#333" stroke-width="0.85"/>
<ellipse cx="442.54" cy="554.93" rx="1.75" ry="2.5" transform="rotate(32 442.54 554.93)" fill="none" stroke="#333" stroke-width="0.85"/>
<ellipse cx="436.59" cy="553.04" rx="1.75" ry="2.5" transform="rotate(32 436.59 553.04)" fill="none" stroke="#333" stroke-width="0.85"/>
<ellipse cx="431.08" cy="550.34" rx="1.75" ry="2.5" transform="rotate(32 431.08 550.34)" fill="none" stroke="#333" stroke-width="0.85"/>
<ellipse cx="426.03" cy="546.82" rx="1.75" ry="2.5" transform="rotate(32 426.03 546.82)" fill="none" stroke="#333" stroke-width="0.85"/>
<ellipse cx="421.5" cy="542.54" rx="1.75" ry="2.5" transform="rotate(32 421.5 542.54)" fill="none" stroke="#333" stroke-width="0.85"/>
<ellipse cx="417.52" cy="537.5" rx="1.75" ry="2.5" transform="rotate(32 417.52 537.5)" fill="none" stroke="#333" stroke-width="0.85"/>
<ellipse cx="414.11" cy="531.76" rx="1.75" ry="2.5" transform="rotate(32 414.11 531.76)" fill="none" stroke="#333" stroke-width="0.85"/>
<ellipse cx="411.31" cy="525.36" rx="1.75" ry="2.5" transform="rotate(32 411.31 525.36)" fill="none" stroke="#333" stroke-width="0.85"/>
<ellipse cx="409.13" cy="518.34" rx="1.75" ry="2.5" transform="rotate(32 409.13 518.34)" fill="none" stroke="#333" stroke-width="0.85"/>
<ellipse cx="407.59" cy="510.77" rx="1.75" ry="2.5" transform="rotate(32 407.59 510.77)" fill="none" stroke="#333" stroke-width="0.85"/>
<ellipse cx="406.7" cy="502.69" rx="1.75" ry="2.5" transform="rotate(32 406.7 502.69)" fill="none" stroke="#333" stroke-width="0.85"/>
<ellipse cx="406.47" cy="494.17" rx="1.75" ry="2.5" transform="rotate(32 406.47 494.17)" fill="none" stroke="#333" stroke-width="0.85"/>
<ellipse cx="406.9" cy="485.27" rx="1.75" ry="2.5" transform="rotate(32 406.9 485.27)" fill="none" stroke="#333" stroke-width="0.85"/>
<ellipse cx="407.99" cy="476.06" rx="1.75" ry="2.5" transform="rotate(32 407.99 476.06)" fill="none" stroke="#333" stroke-width="0.85"/>
<ellipse cx="409.73" cy="466.62" rx="1.75" ry="2.5" transform="rotate(32 409.73 466.62)" fill="none" stroke="#333" stroke-width="0.85"/>
<ellipse cx="412.11" cy="457.01" rx="1.75" ry="2.5" transform="rotate(32 412.11 457.01)" fill="none" stroke="#333" stroke-width="0.85"/>
<ellipse cx="415.1" cy="447.3" rx="1.75" ry="2.5" transform="rotate(32 415.1 447.3)" fill="none" stroke="#333" stroke-width="0.85"/>
<ellipse cx="418.69" cy="437.58" rx="1.75" ry="2.5" transform="rotate(32 418.69 437.58)" fill="none" stroke="#333" stroke-width="0.85"/>
<ellipse cx="422.84" cy="427.91" rx="1.75" ry="2.5" transform="rotate(32 422.84 427.91)" fill="none" stroke="#333" stroke-width="0.85"/>
<ellipse cx="427.53" cy="418.36" rx="1.75" ry="2.5" transform="rotate(32 427.53 418.36)" fill="none" stroke="#333" stroke-width="0.85"/>
<ellipse cx="432.73" cy="409.02" rx="1.75" ry="2.5" transform="rotate(32 432.73 409.02)" fill="none" stroke="#333" stroke-width="0.85"/>
<ellipse cx="438.38" cy="399.95" rx="1.75" ry="2.5" transform="rotate(32 438.38 399.95)" fill="none" stroke="#333" stroke-width="0.85"/>
<ellipse cx="444.45" cy="391.22" rx="1.75" ry="2.5" transform="rotate(32 444.45 391.22)" fill="none" stroke="#333" stroke-width="0.85"/>
<ellipse cx="450.9" cy="382.9" rx="1.75" ry="2.5" transform="rotate(32 450.9 382.9)" fill="none" stroke="#333" stroke-width="0.85"/>
<ellipse cx="457.66" cy="375.04" rx="1.75" ry="2.5" transform="rotate(32 457.66 375.04)" fill="none" stroke="#333" stroke-width="0.85"/>
<ellipse cx="464.7" cy="367.72" rx="1.75" ry="2.5" transform="rotate(32 464.7 367.72)" fill="none" stroke="#333" stroke-width="0.85"/>
<ellipse cx="471.95" cy="360.98" rx="1.75" ry="2.5" transform="rotate(32 471.95 360.98)" fill="none" stroke="#333" stroke-width="0.85"/>
<ellipse cx="479.37" cy="354.88" rx="1.75" ry="2.5" transform="rotate(32 479.37 354.88)" fill="none" stroke="#333" stroke-width="0.85"/>
<ellipse cx="486.9" cy="349.47" rx="1.75" ry="2.5" transform="rotate(32 486.9 349.47)" fill="none" stroke="#333" stroke-width="0.85"/>
<ellipse cx="494.47" cy="344.77" rx="1.75" ry="2.5" transform="rotate(32 494.47 344.77)" fill="none" stroke="#333" stroke-width="0.85"/>
<ellipse cx="502.03" cy="340.84" rx="1.75" ry="2.5" transform="rotate(32 502.03 340.84)" fill="none" stroke="#333" stroke-width="0.85"/>
<ellipse cx="509.53" cy="337.7" rx="1.75" ry="2.5" transform="rotate(32 509.53 337.7)" fill="none" stroke="#333" stroke-width="0.85"/>
<ellipse cx="516.9" cy="335.38" rx="1.75" ry="2.5" transform="rotate(32 516.9 335.38)" fill="none" stroke="#333" stroke-width="0.85"/>
<ellipse cx="524.1" cy="333.88" rx="1.75" ry="2.5" transform="rotate(32 524.1 333.88)" fill="none" stroke="#333" stroke-width="0.85"/>
<ellipse cx="531.05" cy="333.23" rx="1.75" ry="2.5" transform="rotate(32 531.05 333.23)" fill="none" stroke="#333" stroke-width="0.85"/>
<ellipse cx="537.73" cy="333.43" rx="1.75" ry="2.5" transform="rotate(32 537.73 333.43)" fill="none" stroke="#333" stroke-width="0.85"/>
<ellipse cx="544.06" cy="334.47" rx="1.75" ry="2.5" transform="rotate(32 544.06 334.47)" fill="none" stroke="#333" stroke-width="0.85"/>
<ellipse cx="550.01" cy="336.36" rx="1.75" ry="2.5" transform="rotate(32 550.01 336.36)" fill="none" stroke="#333" stroke-width="0.85"/>
<ellipse cx="555.52" cy="339.06" rx="1.75" ry="2.5" transform="rotate(32 555.52 339.06)" fill="none" stroke="#333" stroke-width="0.85"/>
<path d="M0,0 C0,-5.5 3,-7 7,-7 C11.5,-7 14,-4.5 16,-3.2 C18,-2 22.06,-2.2 24.06,-2.6 C26.06,-3 30.12,-2 32.12,-3.2 C34.12,-4.5 36.62,-7 41.12,-7 C45.12,-7 48.12,-5.5 48.12,0 C48.12,4 45.12,5.2 41.12,5.2 L7,5.2 C3,5.2 0,4 0,0 Z" transform="translate(559.5 514.7) rotate(-64.13)" fill="none" stroke="#1a1a1a" stroke-width="1.6"/>
<path d="M0,0 C0,-5.5 3,-7 7,-7 C11.5,-7 14,-4.5 16,-3.2 C18,-2 21.37,-2.2 23.37,-2.6 C25.37,-3 28.74,-2 30.74,-3.2 C32.74,-4.5 35.24,-7 39.74,-7 C43.74,-7 46.74,-5.5 46.74,0 C46.74,4 43.74,5.2 39.74,5.2 L7,5.2 C3,5.2 0,4 0,0 Z" transform="translate(576 523) rotate(-63.98) scale(1,-1)" fill="none" stroke="#1a1a1a" stroke-width="1.6"/>
<g stroke="#1a1a1a" stroke-width="1.1" fill="#fff">
<path d="M593,508 Q589,503 596,500 L605,502 Q612,500 622,494 L639,484 Q643,474 649,473.5 Q655,475 651,481 L647.5,490 Q645,500 650,515 L656,540 L620,556 L612,558 L601,568 Q596,572 593,567 L596.5,556 L597,519 Q597,512 593,508 Z"/>
<path d="M597.5,511 L599,520 L599,555" fill="none" stroke-width="0.7"/>
<path d="M596,504 L606,505 Q615,502 624,497 L641,487 Q645,479 649,476" fill="none" stroke-width="0.7"/>
<path d="M646,502 L653,540 L610,551 Q598,546 601,525 Q604,505 620,496 Q632,490 640,494 Q645,497 646,502 Z" fill="#fff"/>
<path d="M620,505 Q628,496 634,502 Q638,512 630,515 M608,538 Q612,530 619,533 Q622,541 614,545" fill="none" stroke-width="0.9"/>
<path d="M612,515 Q622,512 626,520 M604,527 Q609,522 615,525" fill="none" stroke-width="0.8"/>
<path d="M645.02,502.18 L652.61,540.07 L653.39,539.93 L646.98,501.82 Z" fill="#fff" stroke-width="0.9"/>
<path d="M639.04,496.28 L652.62,540.11 L653.38,539.89 L640.96,495.72 Z" fill="#fff" stroke-width="0.9"/>
<path d="M629.11,495.46 L652.64,540.18 L653.36,539.82 L630.89,494.54 Z" fill="#fff" stroke-width="0.9"/>
<path d="M618.25,502.67 L652.7,540.27 L653.3,539.73 L619.75,501.33 Z" fill="#fff" stroke-width="0.9"/>
<path d="M607.5,514.87 L652.8,540.35 L653.2,539.65 L608.5,513.13 Z" fill="#fff" stroke-width="0.9"/>
<path d="M601.79,529.98 L652.92,540.39 L653.08,539.61 L602.21,528.02 Z" fill="#fff" stroke-width="0.9"/>
<path d="M601.04,543 L653.02,540.4 L652.98,539.6 L600.96,541 Z" fill="#fff" stroke-width="0.9"/>
<path d="M610.23,550.97 L653.09,540.39 L652.91,539.61 L609.77,549.03 Z" fill="#fff" stroke-width="0.9"/>
<circle cx="653" cy="540" r="3.3" fill="#fff" stroke-width="1"/>
<circle cx="653" cy="540" r="1.4" fill="#fff" stroke-width="0.7"/>
<path d="M616,553 L627,549 Q633,552 630,560 L621,563 Z" fill="#fff" stroke-width="1"/>
</g>
<ellipse cx="668.5" cy="548.7" rx="5.2" ry="7.2" fill="#fff" stroke="#1a1a1a" stroke-width="1.1" transform="rotate(-20 668.5 548.7)" />
<ellipse cx="669.5" cy="548.7" rx="1.7" ry="2.3" fill="#fff" stroke="#1a1a1a" stroke-width="0.8" transform="rotate(-20 669.5 548.7)" />
<g stroke="#1a1a1a" stroke-width="1" fill="#fff">
<path d="M638,566 L644,557 L653,563 L648,572 Z"/>
<ellipse cx="640.8" cy="561.5" rx="3.6" ry="5.6" fill="#fff" stroke="#1a1a1a" stroke-width="1" transform="rotate(-35 640.8 561.5)" />
<path d="M648,571 L653,562 L655,564 L650,573 Z" fill="#111"/>
<path d="M651,572 L655,565 L659,568 L655,575 Z"/>
<ellipse cx="657" cy="571.5" rx="3.8" ry="4.8" fill="#fff" stroke="#1a1a1a" stroke-width="1" transform="rotate(-35 657 571.5)" />
</g>
<g stroke="#1a1a1a" stroke-width="1" fill="#fff">
<path d="M677.8,552.6 L723,577.5 L720.5,582.5 L675.3,557.6 Z"/>
<path d="M679.5,552.5 L677.1,557.5" fill="none" stroke-width="0.8"/>
<path d="M681.7,553.71 L679.3,558.71" fill="none" stroke-width="0.8"/>
<path d="M683.9,554.92 L681.5,559.92" fill="none" stroke-width="0.8"/>
<path d="M686.1,556.13 L683.7,561.13" fill="none" stroke-width="0.8"/>
<path d="M688.3,557.34 L685.9,562.34" fill="none" stroke-width="0.8"/>
<path d="M690.5,558.55 L688.1,563.55" fill="none" stroke-width="0.8"/>
<path d="M692.7,559.76 L690.3,564.76" fill="none" stroke-width="0.8"/>
<path d="M694.9,560.97 L692.5,565.97" fill="none" stroke-width="0.8"/>
<path d="M697.1,562.18 L694.7,567.18" fill="none" stroke-width="0.8"/>
<path d="M699.3,563.39 L696.9,568.39" fill="none" stroke-width="0.8"/>
<path d="M701.5,564.6 L699.1,569.6" fill="none" stroke-width="0.8"/>
<path d="M703.7,565.81 L701.3,570.81" fill="none" stroke-width="0.8"/>
<path d="M705.9,567.02 L703.5,572.02" fill="none" stroke-width="0.8"/>
<ellipse cx="676.5" cy="555.1" rx="1.6" ry="2.8" fill="#fff" stroke="#1a1a1a" stroke-width="0.9" transform="rotate(-30 676.5 555.1)" />
<ellipse cx="724.5" cy="580.5" rx="4.2" ry="5.2" fill="#fff" stroke="#1a1a1a" stroke-width="1.1" transform="rotate(-30 724.5 580.5)" />
<path d="M722.5,578.5 L726.5,582.5" fill="none" stroke-width="0.8"/>
</g>
<ellipse cx="758.4" cy="601.3" rx="57.7" ry="35.7" fill="#fff" stroke="#1a1a1a" stroke-width="1.2" transform="rotate(-62.9 758.4 601.3)" />
<ellipse cx="759.9" cy="600.6" rx="56.2" ry="34.2" fill="none" stroke="#555" stroke-width="0.6" transform="rotate(-62.9 759.9 600.6)" />
<g stroke="#333" fill="none" stroke-width="0.7">
<path d="M746.9,569.8 L772.5,556.3 L772.5,559.8 L746.9,573.3 Z" fill="#111" stroke="none"/>
<path d="M740,581 L749.5,579 L749.5,614 L740,616 Z M768.7,562.5 L776,561 L776,602.5 L768.7,604 Z" stroke="#555" stroke-width="0.8"/>
<path d="M744,581 L744,615 M772,562 L772,603" stroke="#777" stroke-width="1.2"/>
<path d="M740,588 L752,586 M740,594 L753,592 M741,604 L752,602 M768,570 L779,568 M768,577 L779,576 M768,588 L779,586 M769,595 L778,594" stroke="#555" stroke-width="0.9"/>
<path d="M749.5,606 L768.7,597 M758.8,593 L758.8,609" stroke="#444" stroke-width="0.8"/>
<path d="M756.5,600.6 L758.8,598.3 L761.1,600.6 L758.8,602.9 Z" fill="#fff" stroke-width="0.8"/>
<path d="M736,615.5 L742,611.5 L744,614.5 L738,619 Z M767,597 L771.5,594 L773,597.5 L768.5,600.5 Z" fill="#111" stroke="none"/>
<path d="M738,612 Q733,620 737,623 M776,585 Q785,578 780,568" stroke="#999" stroke-width="0.7"/>
<path d="M740,625.5 L780,610.5" stroke="#555" stroke-width="0.9" stroke-dasharray="2.2 0.8 1.5 0.8"/>
<path d="M737.5,633 L781,617" stroke="#555" stroke-width="0.9" stroke-dasharray="2.2 0.8 1.5 0.8"/>
<path d="M737,640 L781,623.5" stroke="#555" stroke-width="0.9" stroke-dasharray="2.2 0.8 1.5 0.8"/>
<path d="M737,646 L779,630.5" stroke="#555" stroke-width="0.9" stroke-dasharray="2.2 0.8 1.5 0.8"/>
<path d="M757,616 L763,614" stroke="#333" stroke-width="1.2"/>
<path d="M756,623.5 L762,621.5" stroke="#333" stroke-width="1.2"/>
<path d="M755,630.5 L761,628.5" stroke="#333" stroke-width="1.2"/>
<path d="M754,637 L760,635" stroke="#333" stroke-width="1.2"/>
</g>
<g stroke="#1a1a1a" stroke-width="1.1" fill="#fff">
<path d="M633.75,197.5 L649.7,205 L648.75,223.75 L645,237 L637.5,252 L624,267 L611,280 L596,287 L580,287 L566,281 L554,271 L546,259 L543,250 L550,250 L556,262 L570,273 L586,278 L600,266 L618.75,249 L628,232 L632,216 L633.75,199.4Z" fill="#fff"/>
<path d="M633.75,199.4 L632,216 L628,232 L618.75,249 L600,266 L586,278 L570,273 L556,262 L550,251 L546.5,252 L552,264 L566,276 L588,281 L604,269 L622,252 L631.5,234 L635.5,217 L637.5,201Z" fill="#cccccc" stroke="#555" stroke-width="0.6"/>
<path d="M592,176 L605,162 L625,173 L625,181 L612,196 L592,186 Z"/>
<path d="M592,176 L612,187 L625,173 M612,187 L612,196" fill="none"/>
<path d="M546,200 Q549,191 560,193 Q568,186 580,189 L598,200 L598,250 L570,262 L552,262 Q544,240 546,200 Z"/>
<path d="M571,190 Q581,196 581,212 M552,232 Q560,236 560,250" fill="none" stroke-width="0.8"/>
<path d="M606,183 C609.67,181.5 615,176.83 618,177 C621,177.17 623.17,180.17 624,184 C624.83,187.83 623.33,195.33 623,200 C622.67,204.67 622.5,207.67 622,212 C621.5,216.33 620,221 620,226 C620,231 623,237.83 622,242 C621,246.17 617,249.17 614,251 C611,252.83 606.33,251.67 604,253 C601.67,254.33 603,257.33 600,259 C597,260.67 590.33,262.33 586,263 C581.67,263.67 577.17,264.33 574,263 C570.83,261.67 568,258.17 567,255 C566,251.83 568.17,247.83 568,244 C567.83,240.17 566.33,235.67 566,232 C565.67,228.33 566.33,225.33 566,222 C565.67,218.67 563.17,215.67 564,212 C564.83,208.33 567.33,202.83 571,200 C574.67,197.17 581.83,197.33 586,195 C590.17,192.67 592.67,188 596,186 C599.33,184 602.33,184.5 606,183Z" fill="#fff"/>
<path d="M574,215 Q580,205 590,210 M590,250 Q600,245 606,252" fill="none" stroke-width="0.7"/>
<ellipse cx="612" cy="198" rx="4.4" ry="6.2" fill="#fff" stroke="#1a1a1a" stroke-width="1" transform="rotate(15 612 198)" />
<ellipse cx="595" cy="207" rx="4.4" ry="6.2" fill="#fff" stroke="#1a1a1a" stroke-width="1" transform="rotate(15 595 207)" />
<ellipse cx="612" cy="216" rx="4.4" ry="6.2" fill="#fff" stroke="#1a1a1a" stroke-width="1" transform="rotate(15 612 216)" />
<ellipse cx="611" cy="235" rx="4.4" ry="6.2" fill="#fff" stroke="#1a1a1a" stroke-width="1" transform="rotate(15 611 235)" />
<ellipse cx="595" cy="246" rx="4.4" ry="6.2" fill="#fff" stroke="#1a1a1a" stroke-width="1" transform="rotate(15 595 246)" />
<ellipse cx="577.5" cy="255" rx="4.4" ry="6.2" fill="#fff" stroke="#1a1a1a" stroke-width="1" transform="rotate(15 577.5 255)" />
<ellipse cx="576" cy="237.5" rx="4.4" ry="6.2" fill="#fff" stroke="#1a1a1a" stroke-width="1" transform="rotate(15 576 237.5)" />
<circle cx="598" cy="228" r="2.6" fill="#fff" stroke-width="1"/>
</g>
<g transform="translate(531 207) rotate(29.65)" stroke="#1a1a1a" fill="#fff">
<path d="M0,-2 L74.79,-2 L74.79,2 L0,2 Z" stroke-width="1"/>
<path d="M1,-2 L2.2,2" stroke-width="0.7"/>
<path d="M3.2,-2 L4.4,2" stroke-width="0.7"/>
<path d="M5.4,-2 L6.6,2" stroke-width="0.7"/>
<path d="M7.6,-2 L8.8,2" stroke-width="0.7"/>
<path d="M9.8,-2 L11,2" stroke-width="0.7"/>
<path d="M12,-2 L13.2,2" stroke-width="0.7"/>
<path d="M14.2,-2 L15.4,2" stroke-width="0.7"/>
<path d="M16.4,-2 L17.6,2" stroke-width="0.7"/>
<path d="M18.6,-2 L19.8,2" stroke-width="0.7"/>
<path d="M20.8,-2 L22,2" stroke-width="0.7"/>
<path d="M23,-2 L24.2,2" stroke-width="0.7"/>
<path d="M25.2,-2 L26.4,2" stroke-width="0.7"/>
<path d="M27.4,-2 L28.6,2" stroke-width="0.7"/>
<path d="M29.6,-2 L30.8,2" stroke-width="0.7"/>
<path d="M31.8,-2 L33,2" stroke-width="0.7"/>
<path d="M34,-2 L35.2,2" stroke-width="0.7"/>
<path d="M36.2,-2 L37.4,2" stroke-width="0.7"/>
<path d="M38.4,-2 L39.6,2" stroke-width="0.7"/>
<path d="M40.6,-2 L41.8,2" stroke-width="0.7"/>
<path d="M42.8,-2 L44,2" stroke-width="0.7"/>
<path d="M45,-2 L46.2,2" stroke-width="0.7"/>
<path d="M47.2,-2 L48.4,2" stroke-width="0.7"/>
<path d="M49.4,-2 L50.6,2" stroke-width="0.7"/>
<path d="M51.6,-2 L52.8,2" stroke-width="0.7"/>
<path d="M53.8,-2 L55,2" stroke-width="0.7"/>
<path d="M56,-2 L57.2,2" stroke-width="0.7"/>
<path d="M58.2,-2 L59.4,2" stroke-width="0.7"/>
<path d="M60.4,-2 L61.6,2" stroke-width="0.7"/>
<ellipse cx="74.79" cy="0" rx="3.6" ry="4.5" stroke-width="1"/>
<ellipse cx="75.29" cy="0" rx="1.8" ry="2.25" stroke-width="0.8" fill="none"/>
</g>
<g transform="translate(565 209) rotate(28.61)" stroke="#1a1a1a" fill="#fff">
<path d="M0,-2 L37.59,-2 L37.59,2 L0,2 Z" stroke-width="1"/>
<path d="M1,-2 L2.2,2" stroke-width="0.7"/>
<path d="M3.2,-2 L4.4,2" stroke-width="0.7"/>
<path d="M5.4,-2 L6.6,2" stroke-width="0.7"/>
<path d="M7.6,-2 L8.8,2" stroke-width="0.7"/>
<path d="M9.8,-2 L11,2" stroke-width="0.7"/>
<path d="M12,-2 L13.2,2" stroke-width="0.7"/>
<path d="M14.2,-2 L15.4,2" stroke-width="0.7"/>
<path d="M16.4,-2 L17.6,2" stroke-width="0.7"/>
<path d="M18.6,-2 L19.8,2" stroke-width="0.7"/>
<path d="M20.8,-2 L22,2" stroke-width="0.7"/>
<path d="M23,-2 L24.2,2" stroke-width="0.7"/>
<ellipse cx="37.59" cy="0" rx="3.6" ry="4.5" stroke-width="1"/>
<ellipse cx="38.09" cy="0" rx="1.8" ry="2.25" stroke-width="0.8" fill="none"/>
</g>
<g transform="translate(622.5 177) rotate(28.07)" stroke="#1a1a1a" fill="#fff">
<path d="M0,-2 L51,-2 L51,2 L0,2 Z" stroke-width="1"/>
<path d="M1,-2 L2.2,2" stroke-width="0.7"/>
<path d="M3.2,-2 L4.4,2" stroke-width="0.7"/>
<path d="M5.4,-2 L6.6,2" stroke-width="0.7"/>
<path d="M7.6,-2 L8.8,2" stroke-width="0.7"/>
<path d="M9.8,-2 L11,2" stroke-width="0.7"/>
<path d="M12,-2 L13.2,2" stroke-width="0.7"/>
<path d="M14.2,-2 L15.4,2" stroke-width="0.7"/>
<path d="M16.4,-2 L17.6,2" stroke-width="0.7"/>
<path d="M18.6,-2 L19.8,2" stroke-width="0.7"/>
<path d="M20.8,-2 L22,2" stroke-width="0.7"/>
<path d="M23,-2 L24.2,2" stroke-width="0.7"/>
<path d="M25.2,-2 L26.4,2" stroke-width="0.7"/>
<path d="M27.4,-2 L28.6,2" stroke-width="0.7"/>
<ellipse cx="51" cy="0" rx="4.4" ry="5.5" stroke-width="1"/>
<ellipse cx="51.5" cy="0" rx="2.2" ry="2.75" stroke-width="0.8" fill="none"/>
</g>
<ellipse cx="653.5" cy="193.8" rx="3" ry="4" transform="rotate(28 653.5 193.8)" fill="#fff" stroke="#1a1a1a" stroke-width="1"/>
<g transform="translate(618.75 222) rotate(29.37)" stroke="#1a1a1a" fill="#fff">
<path d="M0,-2 L57.09,-2 L57.09,2 L0,2 Z" stroke-width="1"/>
<path d="M1,-2 L2.2,2" stroke-width="0.7"/>
<path d="M3.2,-2 L4.4,2" stroke-width="0.7"/>
<path d="M5.4,-2 L6.6,2" stroke-width="0.7"/>
<path d="M7.6,-2 L8.8,2" stroke-width="0.7"/>
<path d="M9.8,-2 L11,2" stroke-width="0.7"/>
<path d="M12,-2 L13.2,2" stroke-width="0.7"/>
<path d="M14.2,-2 L15.4,2" stroke-width="0.7"/>
<path d="M16.4,-2 L17.6,2" stroke-width="0.7"/>
<path d="M18.6,-2 L19.8,2" stroke-width="0.7"/>
<path d="M20.8,-2 L22,2" stroke-width="0.7"/>
<ellipse cx="57.09" cy="0" rx="4.4" ry="5.5" stroke-width="1"/>
<ellipse cx="57.59" cy="0" rx="2.2" ry="2.75" stroke-width="0.8" fill="none"/>
</g>
<g transform="translate(622.5 242.5) rotate(29.39)" stroke="#1a1a1a" fill="#fff">
<path d="M0,-2 L34.43,-2 L34.43,2 L0,2 Z" stroke-width="1"/>
<path d="M1,-2 L2.2,2" stroke-width="0.7"/>
<path d="M3.2,-2 L4.4,2" stroke-width="0.7"/>
<path d="M5.4,-2 L6.6,2" stroke-width="0.7"/>
<path d="M7.6,-2 L8.8,2" stroke-width="0.7"/>
<path d="M9.8,-2 L11,2" stroke-width="0.7"/>
<path d="M12,-2 L13.2,2" stroke-width="0.7"/>
<path d="M14.2,-2 L15.4,2" stroke-width="0.7"/>
<ellipse cx="34.43" cy="0" rx="3.6" ry="4.5" stroke-width="1"/>
<ellipse cx="34.93" cy="0" rx="1.8" ry="2.25" stroke-width="0.8" fill="none"/>
</g>
<g transform="translate(531 255) rotate(29.65)" stroke="#1a1a1a" fill="#fff">
<path d="M0,-2 L74.79,-2 L74.79,2 L0,2 Z" stroke-width="1"/>
<path d="M1,-2 L2.2,2" stroke-width="0.7"/>
<path d="M3.2,-2 L4.4,2" stroke-width="0.7"/>
<path d="M5.4,-2 L6.6,2" stroke-width="0.7"/>
<path d="M7.6,-2 L8.8,2" stroke-width="0.7"/>
<path d="M9.8,-2 L11,2" stroke-width="0.7"/>
<path d="M12,-2 L13.2,2" stroke-width="0.7"/>
<path d="M14.2,-2 L15.4,2" stroke-width="0.7"/>
<path d="M16.4,-2 L17.6,2" stroke-width="0.7"/>
<path d="M18.6,-2 L19.8,2" stroke-width="0.7"/>
<path d="M20.8,-2 L22,2" stroke-width="0.7"/>
<path d="M23,-2 L24.2,2" stroke-width="0.7"/>
<path d="M25.2,-2 L26.4,2" stroke-width="0.7"/>
<path d="M27.4,-2 L28.6,2" stroke-width="0.7"/>
<path d="M29.6,-2 L30.8,2" stroke-width="0.7"/>
<path d="M31.8,-2 L33,2" stroke-width="0.7"/>
<path d="M34,-2 L35.2,2" stroke-width="0.7"/>
<path d="M36.2,-2 L37.4,2" stroke-width="0.7"/>
<path d="M38.4,-2 L39.6,2" stroke-width="0.7"/>
<path d="M40.6,-2 L41.8,2" stroke-width="0.7"/>
<path d="M42.8,-2 L44,2" stroke-width="0.7"/>
<ellipse cx="74.79" cy="0" rx="3.6" ry="4.5" stroke-width="1"/>
<ellipse cx="75.29" cy="0" rx="1.8" ry="2.25" stroke-width="0.8" fill="none"/>
</g>
<g stroke="#555" stroke-width="0.9" fill="none">
<path d="M202.5,154.4 L223.7,152.5"/>
<path d="M118.7,332.5 L118.7,383.5"/>
<path d="M613,284 L613,349.4"/>
<path d="M367,452.5 L367,527.5"/>
<path d="M487.3,558.5 L487.3,597"/>
<path d="M531.7,528.7 L503.7,579.5 L678.7,681 L708.5,630.2"/>
<path d="M591.2,632 L580.7,649.5"/>
<path d="M636.7,569 L621,595.2"/>
<path d="M644.8,576 L644.8,611"/>
<path d="M682.2,563.7 L682.2,632"/>
</g>
<text x="231" y="157" text-anchor="middle">6</text>
<text x="119.5" y="404" text-anchor="middle">7</text>
<text x="613" y="366.5" text-anchor="middle">8</text>
<text x="367" y="548.5" text-anchor="middle">9</text>
<text x="487" y="617" text-anchor="middle">5</text>
<text x="574" y="666.5" text-anchor="middle">1</text>
<text x="613" y="614" text-anchor="middle">3</text>
<text x="645" y="633" text-anchor="middle">4</text>
<text x="682" y="654" text-anchor="middle">2</text>
</svg></body></html>
